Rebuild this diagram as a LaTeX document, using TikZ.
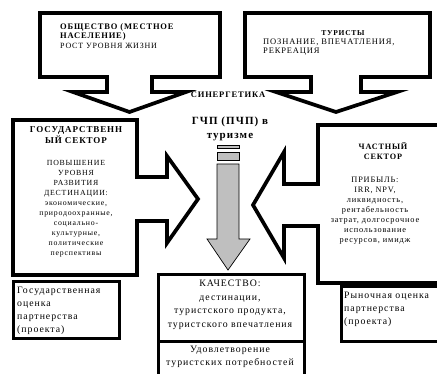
\documentclass[tikz,border=0pt]{standalone}
\usepackage{fontspec}
\setmainfont{Liberation Serif}[LetterSpace=10]
\newcommand{\fs}[2]{\fontsize{#1}{#2}\selectfont}
\begin{document}
\begin{tikzpicture}[x=1pt,y=-1pt]
\tikzset{
  shp/.style={draw=black, line width=3.7pt, fill=white, line join=miter},
  bx/.style={draw=black, line width=2.8pt, fill=white, inner sep=0pt},
  txt/.style={inner sep=0pt, text=black},
  garrow/.style={draw=black, line width=0.7pt, fill=black!25},
}
\useasboundingbox (0,0) rectangle (437,374);
\clip (0,0) rectangle (437,374);

% society callout (down arrow)
\draw[shp] (40,13) -- (220,13) -- (220,77) -- (152,77) -- (152,92) -- (186,92)
  -- (129.5,112) -- (73,92) -- (107,92) -- (107,77) -- (40,77) -- cycle;
% tourists callout (down arrow)
\draw[shp] (245,13) -- (430,13) -- (430,77) -- (361,77) -- (361,92) -- (397,92)
  -- (336,112) -- (276,92) -- (311,92) -- (311,77) -- (245,77) -- cycle;
% state sector callout (right arrow)
\draw[shp] (13,120) -- (137,120) -- (137,177) -- (167,177) -- (167,156)
  -- (198,199) -- (167,243) -- (167,221) -- (137,221) -- (137,275) -- (13,275) -- cycle;
% private sector callout (left arrow)
\draw[shp] (445,125) -- (318,125) -- (318,184) -- (284,184) -- (284,152)
  -- (253,205) -- (284,258) -- (284,226) -- (318,226) -- (318,283) -- (445,283) -- cycle;

% lower boxes
\node[bx, anchor=north west, minimum width=106, minimum height=57] (govest) at (12,280) {};
\node[bx, anchor=north west, minimum width=110, minimum height=55] (mktest) at (340,285) {};
\node[bx, anchor=north west, minimum width=146, minimum height=67] (qual) at (157,273) {};
\node[bx, anchor=north west, minimum width=146, minimum height=50] (satis) at (157,340) {};

% central grey arrow
\node[garrow, anchor=north west, minimum width=22, minimum height=3, inner sep=0pt] (bar1) at (217,145) {};
\node[garrow, anchor=north west, minimum width=22, minimum height=8, inner sep=0pt] (bar2) at (217,152) {};
\draw[garrow] (217,164) -- (239,164) -- (239,239) -- (250,239) -- (228,270)
  -- (207,239) -- (217,239) -- cycle;

% texts
\node[txt, anchor=north west, align=left, font=\fs{8.5}{9.5}] (soct) at (60,23)
  {\textbf{ОБЩЕСТВО (МЕСТНОЕ}\\\textbf{НАСЕЛЕНИЕ)}\\{\fs{8}{9.5}РОСТ УРОВНЯ ЖИЗНИ}};
\node[txt, anchor=north, font=\fs{7.5}{9}\bfseries] (tourt) at (343,30) {ТУРИСТЫ};
\node[txt, anchor=north west, align=left, font=\fs{8.5}{8.5}] (tourb) at (263,39)
  {ПОЗНАНИЕ, ВПЕЧАТЛЕНИЯ,\\РЕКРЕАЦИЯ};
\node[txt, anchor=north, font=\fs{8.5}{9}\bfseries] (syn) at (228,92) {СИНЕРГЕТИКА};
\node[txt, anchor=north, align=center, font=\fs{11}{14}\bfseries] (ppp) at (230,117)
  {ГЧП (ПЧП) в\\туризме};
\node[txt, anchor=north, align=center, font=\fs{9}{11}\bfseries] (govt) at (76,126)
  {ГОСУДАРСТВЕНН\\ЫЙ СЕКТОР};
\node[txt, anchor=north, align=center, font=\fs{7.8}{10}] (govb) at (76,160)
  {ПОВЫШЕНИЕ\\УРОВНЯ\\РАЗВИТИЯ\\ДЕСТИНАЦИИ:\\экономические,\\природоохранные,\\социально-\\культурные,\\политические\\перспективы};
\node[txt, anchor=north, align=center, font=\fs{8.2}{10}\bfseries] (privt) at (383,142)
  {ЧАСТНЫЙ\\СЕКТОР};
\node[txt, anchor=north, align=center, font=\fs{8.3}{10}] (privb) at (375,177)
  {ПРИБЫЛЬ:\\IRR, NPV,\\ликвидность,\\рентабельность\\затрат, долгосрочное\\использование\\ресурсов, имидж};
\node[txt, anchor=north west, align=left, font=\fs{9.8}{13}] (govestt) at (17,287)
  {Государственная\\оценка\\партнерства\\(проекта)};
\node[txt, anchor=north west, align=left, font=\fs{9.8}{13}] (mktestt) at (344,292)
  {Рыночная оценка\\партнерства\\(проекта)};
\node[txt, anchor=north, align=center, font=\fs{9.8}{13.5}] (qualt) at (230,280)
  {КАЧЕСТВО:\\дестинации,\\туристского продукта,\\туристского впечатления};
\node[txt, anchor=north, align=center, font=\fs{9.8}{13}] (satist) at (230,346)
  {Удовлетворение\\туристских потребностей};
\end{tikzpicture}
\end{document}
